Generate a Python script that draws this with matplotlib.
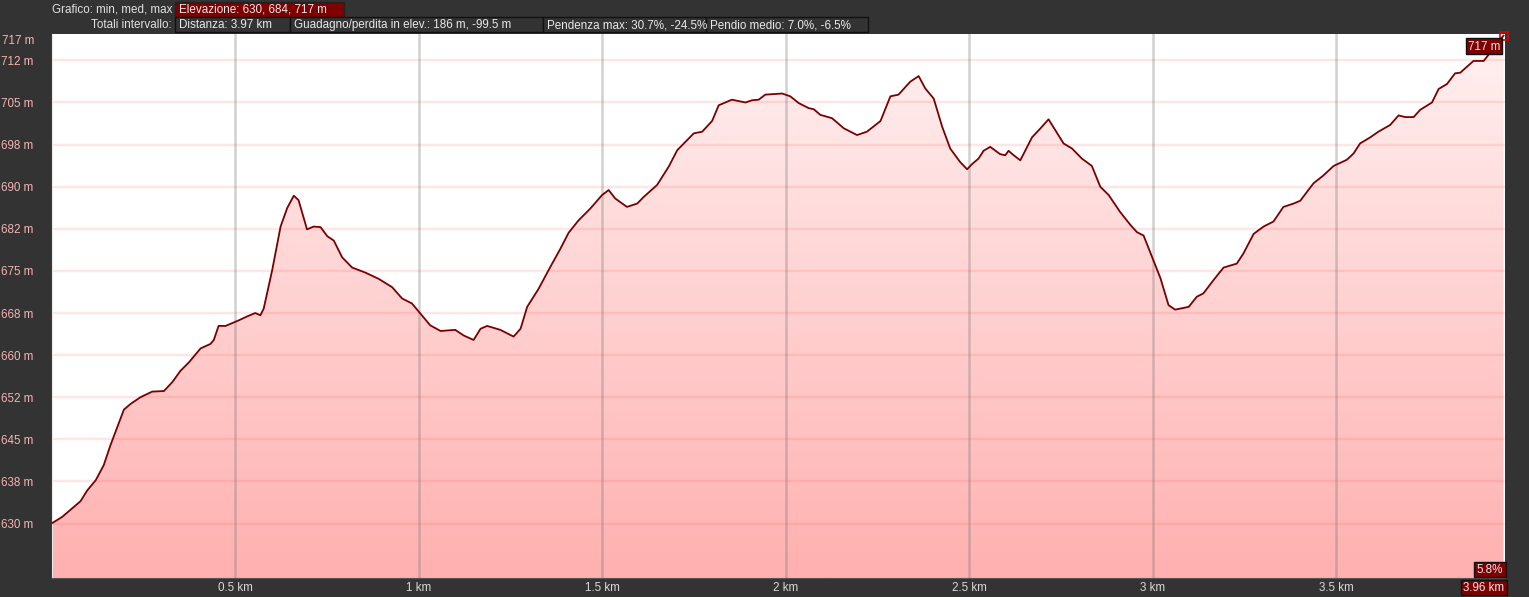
import numpy as np
import matplotlib
matplotlib.use("Agg")
import matplotlib.pyplot as plt
from matplotlib.patches import Rectangle

# ---------------- data ----------------
distance_km = [0.001, 0.028, 0.055, 0.078, 0.096, 0.119, 0.141, 0.159, 0.178, 0.196,
               0.214, 0.241, 0.273, 0.305, 0.328, 0.350, 0.373, 0.405, 0.432, 0.441,
               0.454, 0.473, 0.509, 0.532, 0.554, 0.568, 0.577, 0.600, 0.623, 0.641,
               0.659, 0.672, 0.695, 0.713, 0.732, 0.750, 0.768, 0.791, 0.818, 0.854,
               0.890, 0.927, 0.954, 0.981, 1.004, 1.031, 1.059, 1.099, 1.122, 1.149,
               1.168, 1.186, 1.222, 1.258, 1.277, 1.295, 1.326, 1.358, 1.386, 1.408,
               1.435, 1.467, 1.499, 1.517, 1.535, 1.567, 1.595, 1.613, 1.649, 1.681,
               1.704, 1.731, 1.749, 1.772, 1.799, 1.817, 1.835, 1.853, 1.890, 1.908,
               1.926, 1.944, 1.990, 2.012, 2.035, 2.062, 2.076, 2.094, 2.126, 2.158,
               2.194, 2.221, 2.258, 2.285, 2.307, 2.339, 2.362, 2.380, 2.403, 2.426,
               2.448, 2.475, 2.494, 2.507, 2.525, 2.539, 2.557, 2.584, 2.598, 2.607,
               2.621, 2.639, 2.653, 2.671, 2.694, 2.716, 2.734, 2.757, 2.780, 2.807,
               2.834, 2.857, 2.880, 2.911, 2.939, 2.957, 2.975, 2.998, 3.021, 3.043,
               3.061, 3.098, 3.120, 3.138, 3.166, 3.193, 3.229, 3.247, 3.275, 3.302,
               3.329, 3.356, 3.384, 3.402, 3.438, 3.465, 3.493, 3.529, 3.547, 3.565,
               3.593, 3.615, 3.647, 3.670, 3.688, 3.711, 3.729, 3.761, 3.779, 3.802,
               3.824, 3.838, 3.874, 3.902, 3.915, 3.938, 3.956]
elevation_m = [630.1, 631.2, 632.7, 634.0, 635.9, 637.7, 640.4, 643.9, 647.2, 650.3,
               651.3, 652.5, 653.5, 653.6, 655.2, 657.2, 658.7, 661.2, 662.0, 662.7,
               665.2, 665.2, 666.2, 666.9, 667.5, 667.1, 668.3, 675.1, 682.9, 686.2,
               688.4, 687.6, 682.4, 682.9, 682.8, 681.2, 680.4, 677.4, 675.6, 674.7,
               673.6, 672.1, 670.1, 669.2, 667.4, 665.3, 664.3, 664.5, 663.5, 662.7,
               664.7, 665.2, 664.5, 663.3, 664.7, 668.6, 671.8, 675.7, 679.0, 681.8,
               684.0, 686.1, 688.5, 689.4, 687.9, 686.4, 687.0, 688.2, 690.3, 693.6,
               696.5, 698.3, 699.5, 699.8, 701.7, 704.5, 705.0, 705.5, 705.0, 705.4,
               705.5, 706.4, 706.6, 706.1, 704.9, 704.0, 703.8, 702.8, 702.2, 700.4,
               699.2, 699.8, 701.7, 706.1, 706.4, 708.7, 709.7, 707.5, 705.7, 700.7,
               696.8, 694.4, 693.1, 694.0, 695.0, 696.4, 697.1, 695.8, 695.6, 696.4,
               695.6, 694.7, 696.5, 698.8, 700.4, 702.0, 700.1, 697.7, 696.8, 695.0,
               693.7, 690.0, 688.5, 685.5, 683.2, 681.9, 681.3, 677.5, 673.7, 668.9,
               668.1, 668.6, 670.4, 671.0, 673.4, 675.6, 676.3, 678.1, 681.6, 682.9,
               683.8, 686.4, 687.0, 687.5, 690.6, 692.0, 693.7, 694.8, 695.9, 697.7,
               698.8, 699.8, 701.0, 702.7, 702.4, 702.4, 703.7, 705.0, 707.4, 708.3,
               710.2, 710.3, 712.4, 712.4, 713.5, 715.6, 716.9]

y_grid_values = [630 + 7.5 * k for k in range(12)]
y_tick_labels = ["630 m", "638 m", "645 m", "652 m", "660 m", "668 m",
                 "675 m", "682 m", "690 m", "698 m", "705 m", "712 m"]
x_tick_values = [0.5, 1.0, 1.5, 2.0, 2.5, 3.0, 3.5]
x_tick_labels = ["0.5 km", "1 km", "1.5 km", "2 km", "2.5 km", "3 km", "3.5 km"]
max_label = "717 m"
slope_label = "5.8%"
end_dist_label = "3.96 km"

header_row1_label = "Grafico: min, med, max"
header_row1_box = "Elevazione: 630, 684, 717 m"
header_row2_label = "Totali intervallo:"
header_row2_boxes = ["Distanza: 3.97 km",
                     "Guadagno/perdita in elev.: 186 m, -99.5 m",
                     "Pendenza max: 30.7%, -24.5%",
                     "Pendio medio: 7.0%, -6.5%"]

# ---------------- figure ----------------
W, H = 1529, 597
BG = "#333333"
DARKRED = "#7f0000"
FS = 8.4
plt.rcParams['font.family'] = ['Liberation Sans', 'DejaVu Sans']

fig = plt.figure(figsize=(W / 100, H / 100), dpi=100, facecolor=BG)

def fx(px):
    return px / W

def fy(py):
    return 1 - py / H

L, R, T, B = 52, 1505, 34, 578
ax = fig.add_axes([fx(L), fy(B), fx(R) - fx(L), fy(T) - fy(B)])
ax.set_facecolor("white")

xmin, xmax = 0.0, 3.96
ymin, ymax = 620.3, 717.2
ax.set_xlim(xmin, xmax)
ax.set_ylim(ymin, ymax)

# gradient fill under the profile
grad = np.linspace(0, 1, 256).reshape(-1, 1)
top_c = np.array([255, 241, 241]) / 255.0
bot_c = np.array([255, 176, 176]) / 255.0
img = top_c[None, None, :] * (1 - grad[:, :, None]) + bot_c[None, None, :] * grad[:, :, None]
im = ax.imshow(img, extent=[xmin, xmax, ymin, ymax], origin="upper",
               aspect="auto", zorder=1, interpolation="bilinear")
poly = ax.fill_between(distance_km, elevation_m, ymin - 5, facecolor="none",
                       edgecolor="none", zorder=1)
im.set_clip_path(poly.get_paths()[0], transform=ax.transData)

# grid lines
for v in y_grid_values:
    ax.axhline(v, color=(1.0, 0.3, 0.3), alpha=0.14, lw=1.7, zorder=2)
for v in x_tick_values:
    ax.axvline(v, color=(0.45, 0.45, 0.45), alpha=0.33, lw=1.8, zorder=2)

# profile line
ax.plot(distance_km, elevation_m, color="#7a0000", lw=1.3, zorder=3,
        solid_joinstyle="round")

# end marker
ax.plot([distance_km[-1]], [elevation_m[-1]], marker="s", ms=5.5, mfc="none",
        mec="#e00000", mew=1.2, zorder=5, clip_on=False)

# ticks
ax.set_xticks(x_tick_values)
ax.set_xticklabels(x_tick_labels, color="#d8d8d8", fontsize=FS)
ax.set_yticks(y_grid_values)
ax.set_yticklabels(y_tick_labels, color="#f4b4b4", fontsize=FS)
for lab in ax.get_yticklabels():
    lab.set_horizontalalignment("left")
ax.tick_params(axis="y", length=0, pad=36.5)
ax.tick_params(axis="x", length=0, pad=3)
for s in ["top", "right"]:
    ax.spines[s].set_visible(False)
ax.spines["left"].set_color("#e8e8e8")
ax.spines["bottom"].set_color("#555555")

# max label on left axis
fig.text(fx(2), fy(41), max_label, color="#f4b4b4", fontsize=FS,
         ha="left", va="center")

def box(x0, y0, x1, y1, text, face, edge="#151515", color="#e8e8e8", ha="left",
        pad=4, fs=FS):
    fig.patches.append(Rectangle((fx(x0), fy(y1)), fx(x1) - fx(x0), fy(y0) - fy(y1),
                                 transform=fig.transFigure, facecolor=face,
                                 edgecolor=edge, lw=1.0, zorder=10))
    if ha == "left":
        tx = fx(x0 + pad)
    else:
        tx = fx((x0 + x1) / 2)
    fig.text(tx, fy((y0 + y1) / 2 + 0.5), text, color=color, fontsize=fs,
             ha=ha, va="center", zorder=11)

# header
fig.text(fx(172), fy(9.5), header_row1_label, color="#e0e0e0", fontsize=FS,
         ha="right", va="center")
box(175, 2, 344, 17, header_row1_box, DARKRED, edge="#222222")
fig.text(fx(172), fy(24.5), header_row2_label, color="#e0e0e0", fontsize=FS,
         ha="right", va="center")
edges = [175, 290, 543, 706, 868]
for i, t in enumerate(header_row2_boxes):
    box(edges[i], 17, edges[i + 1], 32, t, BG, edge="#111111")

# right annotations
box(1466, 38, 1502, 54, max_label, DARKRED, edge="#111111", ha="center")
box(1474, 562, 1506, 577, slope_label, DARKRED, edge="#111111", ha="center")
box(1461, 580, 1507, 595, end_dist_label, DARKRED, edge="#111111", ha="center")

fig.savefig("out.png", dpi=100, facecolor=BG)
